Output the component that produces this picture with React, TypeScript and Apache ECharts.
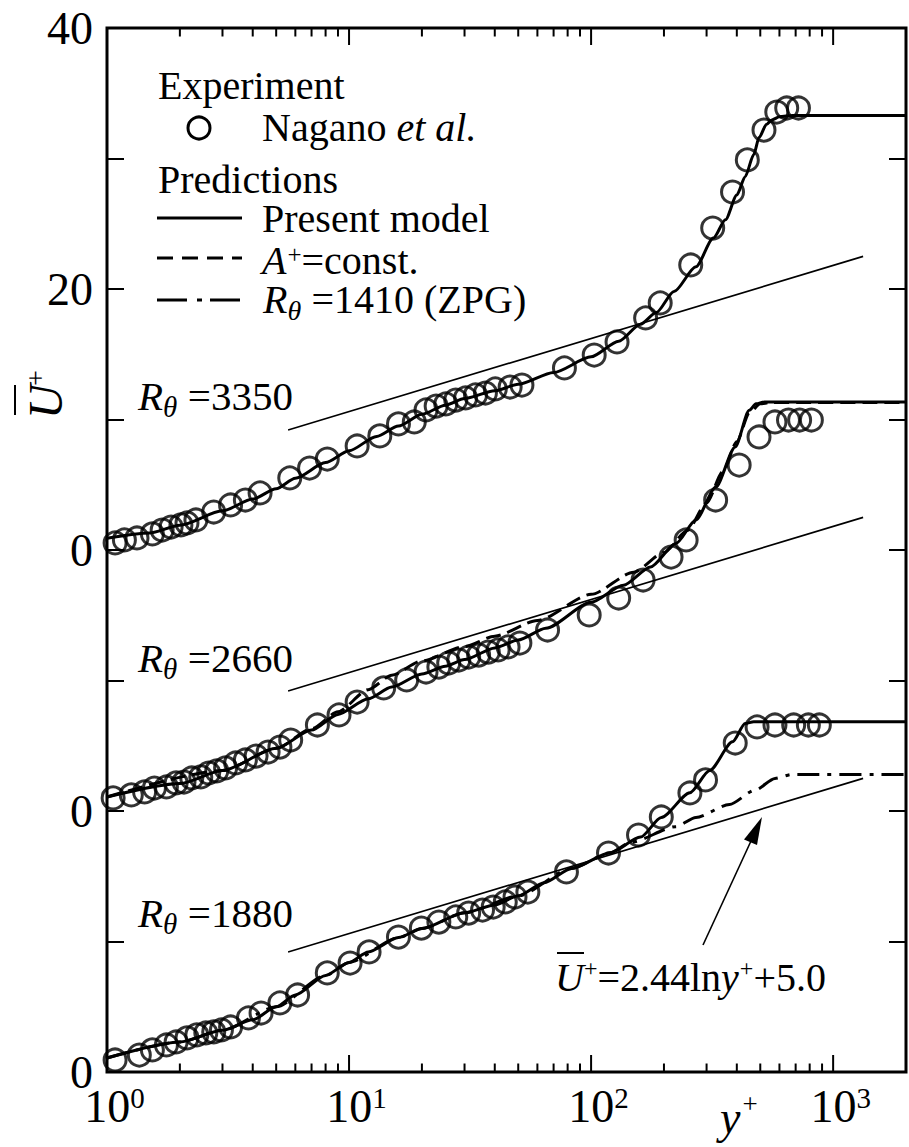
import React, { useEffect, useRef } from 'react';
import * as echarts from 'echarts';

const FONT = 'Liberation Serif';

// ---- axis ticks / labels ----
const xMajorTicks = [1, 10, 100, 1000];
const xMinorTicks = [2, 3, 4, 5, 6, 7, 8, 9, 20, 30, 40, 50, 60, 70, 80, 90, 200, 300, 400, 500, 600, 700, 800, 900];
const yTickValues = [0, 20, 40, 60, 80];
const yTickLabels = ['0', '0', '0', '20', '40'];

// vertical offsets of the three profiles (R_theta = 3350, 2660, 1880)
const offset3350 = 40;
const offset2660 = 20;
const offset1880 = 0;

// ---- Experiment (Nagano et al.) ----
const exp3350Y = [1.08, 1.18, 1.33, 1.54, 1.69, 1.84, 2.02, 2.14, 2.33, 2.76, 3.24, 3.73, 4.29, 5.69, 6.87, 8.13, 10.8, 13.4, 16.0, 18.6, 20.8, 22.9, 25.1, 27.6, 30.3, 33.3, 36.6, 40.2, 46.3, 51.8, 77.6, 103, 128, 168, 193, 258, 318, 384, 442, 518, 585, 643, 719];
const exp3350U = [0.54, 0.77, 0.92, 1.23, 1.53, 1.76, 1.92, 2.07, 2.30, 2.91, 3.45, 3.83, 4.37, 5.52, 6.28, 6.97, 7.97, 8.74, 9.66, 9.81, 10.73, 11.03, 11.19, 11.49, 11.65, 11.88, 12.03, 12.34, 12.49, 12.64, 13.95, 14.94, 15.94, 17.78, 18.93, 21.84, 24.67, 27.43, 29.89, 32.18, 33.56, 33.87, 33.87];

const exp2660Y = [1.06, 1.26, 1.43, 1.57, 1.76, 1.93, 2.08, 2.24, 2.44, 2.63, 2.84, 3.09, 3.40, 3.73, 4.13, 4.63, 5.18, 5.74, 7.40, 9.09, 10.8, 13.9, 17.3, 20.8, 23.5, 25.8, 28.4, 31.2, 34.3, 37.6, 41.3, 45.4, 50.8, 66.1, 98.2, 130, 164, 214, 247, 327, 409, 494, 575, 654, 727, 813];
const exp2660U = [1.0, 1.23, 1.46, 1.76, 1.84, 2.15, 2.22, 2.53, 2.61, 2.91, 3.07, 3.30, 3.68, 3.91, 4.21, 4.52, 4.90, 5.44, 6.59, 7.36, 8.35, 9.43, 10.04, 10.65, 11.03, 11.34, 11.57, 11.80, 11.95, 12.18, 12.34, 12.57, 12.87, 13.87, 15.02, 16.32, 17.70, 19.46, 20.77, 23.83, 26.51, 28.66, 29.81, 29.96, 29.96, 29.96];

const exp1880Y = [1.08, 1.36, 1.54, 1.76, 1.93, 2.14, 2.35, 2.56, 2.76, 2.97, 3.24, 3.84, 4.33, 5.18, 6.13, 8.13, 10.1, 12.1, 16.0, 19.9, 23.5, 27.6, 31.2, 35.6, 39.4, 44.2, 48.5, 54.8, 79.1, 118, 157, 195, 256, 297, 394, 485, 575, 687, 790, 877];
const exp1880U = [0.92, 1.30, 1.69, 2.07, 2.30, 2.61, 2.84, 2.99, 3.07, 3.22, 3.45, 4.14, 4.52, 5.29, 5.90, 7.59, 8.35, 9.20, 10.34, 11.03, 11.49, 11.88, 12.18, 12.41, 12.64, 13.03, 13.41, 13.79, 15.33, 16.78, 18.16, 19.54, 21.38, 22.38, 25.21, 26.44, 26.59, 26.59, 26.59, 26.59];

// ---- Predictions: present model ----
const model3350Y = [1, 1.5, 2, 3, 4, 5, 6, 8, 10, 13, 16, 20, 25, 30, 40, 50, 70, 100, 130, 160, 186, 220, 271, 320, 359, 400, 433, 470, 494, 530, 558, 600, 680, 2000];
const model3350U = [0.9, 1.3, 1.9, 3.0, 3.9, 4.7, 5.5, 6.7, 7.6, 8.7, 9.5, 10.4, 11.1, 11.6, 12.2, 12.7, 13.6, 14.8, 16.0, 17.3, 18.2, 19.8, 21.7, 23.9, 25.3, 27.2, 28.6, 30.3, 31.6, 32.6, 32.95, 33.2, 33.3, 33.3];

const model2660Y = [1, 2, 3, 5, 7, 9, 12, 15, 20, 25, 30, 40, 50, 65, 100, 136, 176, 224, 271, 327, 394, 450, 480, 520, 2000];
const model2660U = [1.07, 2.1, 3.1, 4.8, 6.2, 7.4, 8.6, 9.5, 10.5, 11.1, 11.6, 12.5, 13.1, 14.0, 16.0, 17.3, 18.7, 20.5, 22.3, 24.8, 27.9, 30.7, 31.2, 31.34, 31.34];

const model1880Y = [1, 2, 3, 4, 5, 6, 8, 10, 12, 16, 20, 30, 40, 50, 64, 83, 120, 160, 195, 256, 309, 384, 433, 470, 2000];
const model1880U = [1.07, 2.3, 3.2, 4.0, 5.0, 5.9, 7.4, 8.4, 9.2, 10.3, 11.0, 12.2, 12.8, 13.5, 14.5, 15.6, 16.8, 18.0, 19.5, 21.4, 23.1, 25.3, 26.7, 26.84, 26.84];

// ---- Predictions: A+ = const. (R_theta = 2660) ----
const aconst2660Y = [1, 3, 5, 7, 9, 12, 15, 20, 30, 40, 60, 100, 150, 200, 250, 300, 350, 400, 450, 500, 550, 2000];
const aconst2660U = [1.07, 3.1, 4.8, 6.3, 7.6, 9.3, 10.4, 11.5, 12.6, 13.4, 14.6, 16.6, 18.3, 19.8, 21.5, 23.6, 26.0, 28.3, 30.5, 31.2, 31.3, 31.3];

// ---- Predictions: R_theta = 1410 (ZPG) ----
const zpg1410Y = [1, 2, 3, 5, 8, 10, 16, 20, 30, 50, 83, 120, 146, 224, 271, 373, 476, 575, 674, 2000];
const zpg1410U = [1.07, 2.3, 3.2, 5.0, 7.4, 8.4, 10.3, 11.0, 12.2, 13.5, 15.6, 16.8, 17.6, 18.8, 19.5, 20.5, 21.6, 22.5, 22.8, 22.8];

// ---- log law  U+ = 2.44 ln y+ + 5.0 (end points) ----
const logLawY = [5.6, 1330];
const logLawU = [9.2, 22.5];

const pairs = (xs: number[], us: number[], off: number) => xs.map((x, i) => [x, us[i] + off]);

// Times / Liberation Serif advance widths (em)
const W_REG: Record<string, number> = {
  ' ': 0.25, '(': 0.333, ')': 0.333, '+': 0.564, '.': 0.25, '=': 0.564,
  '0': 0.5, '1': 0.5, '2': 0.5, '3': 0.5, '4': 0.5, '5': 0.5, '6': 0.5, '7': 0.5, '8': 0.5, '9': 0.5,
  A: 0.722, E: 0.611, G: 0.722, N: 0.722, P: 0.556, Z: 0.611,
  a: 0.444, c: 0.444, d: 0.5, e: 0.444, g: 0.5, i: 0.278, l: 0.278, m: 0.778, n: 0.5, o: 0.5, p: 0.5, r: 0.333, s: 0.389, t: 0.278, x: 0.5,
};
const W_IT: Record<string, number> = {
  ' ': 0.25, '.': 0.25, A: 0.611, R: 0.611, U: 0.722, y: 0.444, e: 0.444, t: 0.278, a: 0.5, l: 0.278, 'θ': 0.5,
};
function measure(t: string, size: number, italic?: boolean) {
  const tbl = italic ? W_IT : W_REG;
  let w = 0;
  for (const ch of t) w += tbl[ch] ?? 0.5;
  return w * size;
}

type Piece = { t: string; size: number; italic?: boolean; dy?: number; gap?: number };

function textEl(t: string, x: number, baseline: number, size: number, italic?: boolean) {
  const style: any = {
    text: t,
    fontSize: size,
    fontFamily: FONT,
    fill: '#000',
    textAlign: 'left',
    textVerticalAlign: 'middle',
  };
  if (italic) style.fontStyle = 'italic';
  return { type: 'text', x, y: baseline - 0.3375 * size, silent: true, style };
}

function textRun(pieces: Piece[], x: number, baseline: number) {
  const out: any[] = [];
  let cx = x;
  for (const p of pieces) {
    out.push(textEl(p.t, cx, baseline + (p.dy || 0), p.size, p.italic));
    cx += measure(p.t, p.size, p.italic) + (p.gap || 0);
  }
  return out;
}

function lineEl(x1: number, y1: number, x2: number, y2: number, width: number, dash?: number[]) {
  return {
    type: 'line',
    silent: true,
    shape: { x1, y1, x2, y2 },
    style: { stroke: '#000', lineWidth: width, lineDash: dash || null },
  };
}

function buildOption() {
  const tickData = [
    ...xMajorTicks.map((v) => [v, 1]),
    ...xMinorTicks.map((v) => [v, 0]),
  ];

  const solid = { color: '#000', width: 3 };
  const circleStyle = { color: 'rgba(0,0,0,0)', borderColor: '#000', borderWidth: 3 };

  const scatter = (data: number[][]) => ({
    type: 'scatter', data, symbol: 'circle', symbolSize: 22, itemStyle: circleStyle, silent: true, z: 2,
  });
  const curve = (data: number[][], lineStyle: any, smooth = 0.25) => ({
    type: 'line', data, symbol: 'none', showSymbol: false, lineStyle, smooth, smoothMonotone: 'x', silent: true, z: 3,
  });

  const graphic: any[] = [
    // legend
    ...textRun([{ t: 'Experiment', size: 40 }], 158, 99),
    { type: 'circle', silent: true, shape: { cx: 199, cy: 128, r: 11 }, style: { fill: 'none', stroke: '#000', lineWidth: 3 } },
    ...textRun([{ t: 'Nagano ', size: 40 }, { t: 'et al.', size: 40, italic: true }], 262, 141),
    ...textRun([{ t: 'Predictions', size: 40 }], 158, 193),
    lineEl(157, 218, 242, 218, 3),
    ...textRun([{ t: 'Present model', size: 40 }], 262, 232),
    lineEl(157, 258, 242, 258, 3, [16, 9]),
    ...textRun([{ t: 'A', size: 40, italic: true, gap: 1 }, { t: '+', size: 25, dy: -11 }, { t: '=const.', size: 40 }], 262, 274),
    lineEl(157, 300, 242, 300, 3, [30, 10, 5, 8]),
    ...textRun([{ t: 'R', size: 40, italic: true }, { t: 'θ', size: 28, italic: true, dy: 7 }, { t: ' =1410 (ZPG)', size: 40 }], 263, 313),
    // profile labels
    ...textRun([{ t: 'R', size: 41, italic: true }, { t: 'θ', size: 29, italic: true, dy: 7 }, { t: ' =3350', size: 41 }], 138, 410),
    ...textRun([{ t: 'R', size: 41, italic: true }, { t: 'θ', size: 29, italic: true, dy: 7 }, { t: ' =2660', size: 41 }], 138, 672),
    ...textRun([{ t: 'R', size: 41, italic: true }, { t: 'θ', size: 29, italic: true, dy: 7 }, { t: ' =1880', size: 41 }], 138, 927),
    // log-law annotation
    ...textRun([
      { t: 'U', size: 40, italic: true },
      { t: '+', size: 24, dy: -15 },
      { t: '=2.44ln', size: 40 },
      { t: 'y', size: 40, italic: true, gap: 1 },
      { t: '+', size: 24, dy: -15 },
      { t: '+5.0', size: 40 },
    ], 555, 991),
    lineEl(557, 953, 584, 953, 2),
    lineEl(703, 945, 751, 841, 1.6),
    { type: 'polygon', silent: true, shape: { points: [[762, 817], [757, 845], [744, 839.5]] }, style: { fill: '#000' } },
    // x axis title
    ...textRun([{ t: 'y', size: 46, italic: true, gap: 2 }, { t: '+', size: 27, dy: -20 }], 720, 1133),
    // y axis title (rotated)
    {
      type: 'group', x: 37, y: 398, rotation: Math.PI / 2, silent: true,
      children: [
        textEl('U', -21, 25, 48, true),
        textEl('+', 12, 8, 28, false),
        lineEl(-17, -22, 13, -22, 2),
      ],
    },
  ];

  return {
    animation: false,
    backgroundColor: '#fff',
    textStyle: { fontFamily: FONT },
    grid: { left: 107, top: 28, width: 809, height: 1044, show: true, borderColor: '#000', borderWidth: 3, backgroundColor: 'transparent' },
    xAxis: {
      type: 'log', logBase: 10, min: 1, max: 2000,
      axisLine: { show: false }, axisTick: { show: false }, splitLine: { show: false }, minorTick: { show: false },
      axisLabel: {
        margin: 11,
        padding: [0, 0, 0, 15],
        fontFamily: FONT,
        formatter: (v: number) => {
          const l = Math.log10(v);
          const e = Math.round(l);
          if (Math.abs(l - e) > 1e-6 || e > 3) return '';
          return `{b|10}{s|${e}}`;
        },
        rich: {
          b: { fontSize: 46, fontFamily: FONT, color: '#000', lineHeight: 46 },
          s: { fontSize: 29, fontFamily: FONT, color: '#000', verticalAlign: 'top', lineHeight: 36 },
        },
      },
    },
    yAxis: [
      {
        type: 'value', min: 0, max: 80, interval: 10, position: 'left',
        axisLine: { show: false }, splitLine: { show: false },
        axisTick: { show: true, inside: true, length: 17, lineStyle: { color: '#000', width: 2 } },
        axisLabel: {
          margin: 14, fontSize: 46, fontFamily: FONT, color: '#000',
          formatter: (v: number) => {
            const i = yTickValues.indexOf(v);
            return i >= 0 ? yTickLabels[i] : '';
          },
        },
      },
      {
        type: 'value', min: 0, max: 80, interval: 10, position: 'right',
        axisLine: { show: false }, splitLine: { show: false }, axisLabel: { show: false },
        axisTick: { show: true, inside: true, length: 17, lineStyle: { color: '#000', width: 2 } },
      },
    ],
    series: [
      {
        type: 'custom', silent: true, z: 5, data: tickData,
        renderItem: (params: any, api: any) => {
          const v = api.value(0);
          const major = api.value(1) === 1;
          const len = major ? 17 : 8.5;
          const pb = api.coord([v, 0]);
          const pt = api.coord([v, 80]);
          return {
            type: 'group',
            children: [
              { type: 'line', shape: { x1: pb[0], y1: pb[1], x2: pb[0], y2: pb[1] - len }, style: { stroke: '#000', lineWidth: 2 } },
              { type: 'line', shape: { x1: pt[0], y1: pt[1], x2: pt[0], y2: pt[1] + len }, style: { stroke: '#000', lineWidth: 2 } },
            ],
          };
        },
      },
      scatter(pairs(exp3350Y, exp3350U, offset3350)),
      scatter(pairs(exp2660Y, exp2660U, offset2660)),
      scatter(pairs(exp1880Y, exp1880U, offset1880)),
      curve(pairs(aconst2660Y, aconst2660U, offset2660), { color: '#000', width: 3, type: [15, 7] }),
      curve(pairs(zpg1410Y, zpg1410U, offset1880), { color: '#000', width: 3, type: [22, 8, 4, 8] }),
      curve(pairs(model3350Y, model3350U, offset3350), solid),
      curve(pairs(model2660Y, model2660U, offset2660), solid),
      curve(pairs(model1880Y, model1880U, offset1880), solid),
      curve(pairs(logLawY, logLawU, offset3350), { color: '#000', width: 1.6 }, 0),
      curve(pairs(logLawY, logLawU, offset2660), { color: '#000', width: 1.6 }, 0),
      curve(pairs(logLawY, logLawU, offset1880), { color: '#000', width: 1.6 }, 0),
    ],
    graphic,
  };
}

export default function App() {
  const ref = useRef<HTMLDivElement>(null);
  useEffect(() => {
    if (!ref.current) return;
    const chart = echarts.init(ref.current, undefined, { renderer: 'svg' });
    chart.setOption(buildOption() as any);
    let alive = true;
    const fonts: any = (document as any).fonts;
    if (fonts && fonts.load) {
      Promise.all([
        fonts.load('40px "Liberation Serif"'),
        fonts.load('italic 40px "Liberation Serif"'),
      ]).then(() => {
        if (alive) chart.setOption(buildOption() as any, true);
      }).catch(() => {});
    }
    return () => {
      alive = false;
      chart.dispose();
    };
  }, []);
  return (
    <div
      ref={ref}
      style={{ position: 'absolute', left: 0, top: 0, width: 909, height: 1147, overflow: 'hidden' }}
    />
  );
}
